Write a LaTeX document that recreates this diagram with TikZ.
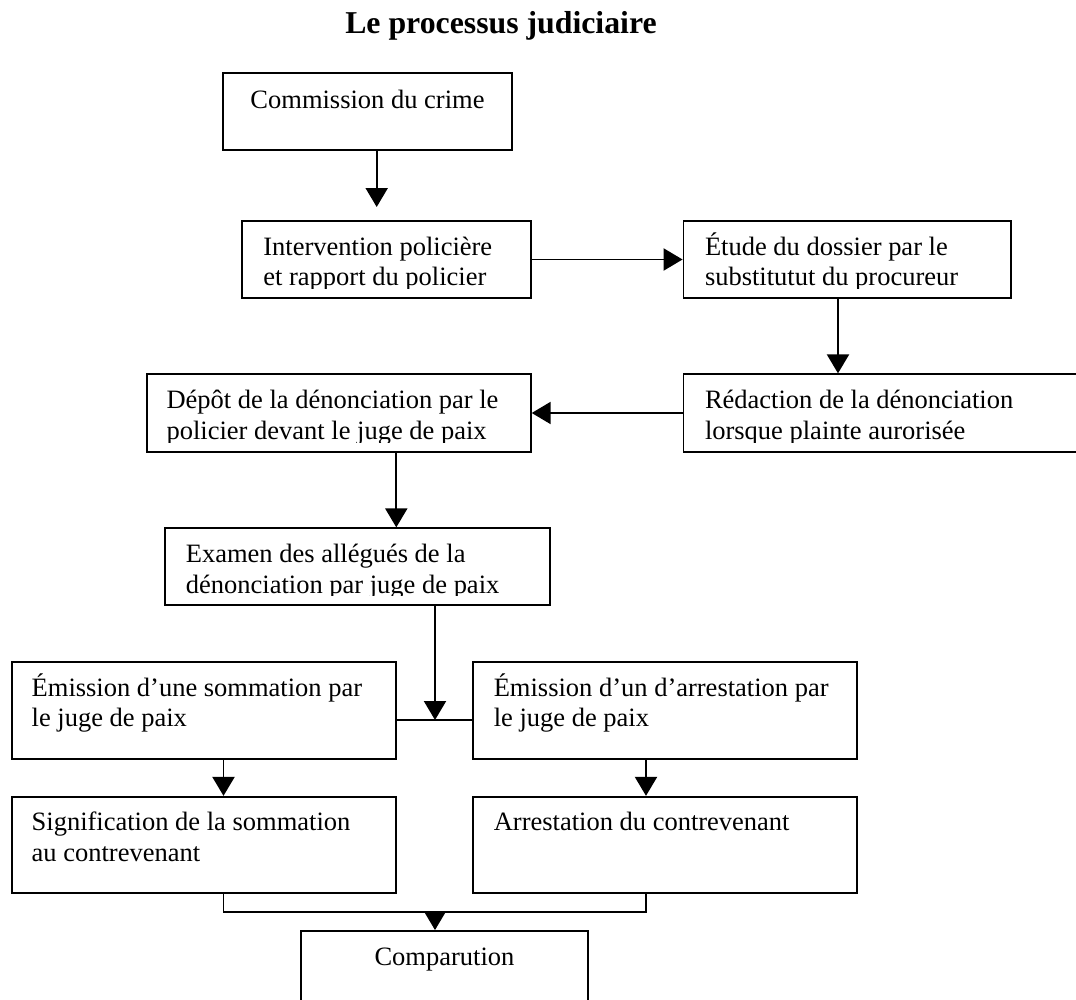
\documentclass[tikz,border=0pt]{standalone}
\usepackage{fontspec}
\setmainfont{Liberation Serif}
\usetikzlibrary{arrows.meta,calc,fit}
\newcommand\twolines[2]{\vtop{\baselineskip=13.8pt\hbox{#1}\hbox{#2}}}
\begin{document}
\begin{tikzpicture}[x=0.4529pt,y=-0.4529pt,
  box/.style={draw, line width=0.85pt, inner sep=0pt, rectangle, line join=miter},
  txt/.style={inner sep=0pt, font=\fontsize{12pt}{13.8pt}\selectfont},
  conn/.style={line width=0.85pt},
  arr/.style={conn, -{Triangle[length=8.6pt,width=10pt]}},
  titlestyle/.style={inner sep=0pt, font=\fontsize{14.4pt}{16pt}\selectfont\bfseries}
]
\useasboundingbox (0,0) rectangle (1076,1000);
\clip (0,0) rectangle (1076,1000);

% title
\node[titlestyle, anchor=base] (title) at (501,33.3) {Le processus judiciaire};

% boxes
\node[box, fit={(223,73.3)(512,150)}] (n1) {};
\node[box, fit={(242.4,220.7)(531.3,298.3)}] (n2) {};
\node[box, fit={(683.5,220.7)(1011,298.3)}] (n3) {};
\node[box, fit={(683.5,374.3)(1110,451.7)}] (n4) {};
\node[box, fit={(146.6,374.3)(530.8,451.7)}] (n5) {};
\node[box, fit={(165.4,528.3)(550.2,605)}] (n6) {};
\node[box, fit={(11.7,662.3)(396,759)}] (n7) {};
\node[box, fit={(473.3,662.3)(857.3,759)}] (n8) {};
\node[box, fit={(11.7,796.8)(396,893)}] (n9) {};
\node[box, fit={(473.3,796.8)(857.3,893)}] (n10) {};
\node[box, fit={(300.6,931)(588.3,1020)}] (n11) {};

% texts
\node[txt, anchor=base] (t1) at ($(n1.north)+(0,36)$) {Commission du crime};
\begin{scope}
\clip (n2.north west) rectangle ($(n2.south east)+(0,-10.5)$);
\node[txt, anchor=base west] (t2) at ($(n2.north west)+(21.5,35.5)$) {\twolines{Intervention policière}{et rapport du policier}};
\end{scope}
\begin{scope}
\clip (n3.north west) rectangle ($(n3.south east)+(0,-10.5)$);
\node[txt, anchor=base west] (t3) at ($(n3.north west)+(22,35.5)$) {\twolines{Étude du dossier par le}{substitutut du procureur}};
\end{scope}
\begin{scope}
\clip (n4.north west) rectangle ($(n4.south east)+(0,-10.5)$);
\node[txt, anchor=base west] (t4) at ($(n4.north west)+(22,35.5)$) {\twolines{Rédaction de la dénonciation}{lorsque plainte aurorisée}};
\end{scope}
\begin{scope}
\clip (n5.north west) rectangle ($(n5.south east)+(0,-10.5)$);
\node[txt, anchor=base west] (t5) at ($(n5.north west)+(20.5,35.5)$) {\twolines{Dépôt de la dénonciation par le}{policier devant le juge de paix}};
\end{scope}
\begin{scope}
\clip (n6.north west) rectangle ($(n6.south east)+(0,-10.5)$);
\node[txt, anchor=base west] (t6) at ($(n6.north west)+(21,35.5)$) {\twolines{Examen des allégués de la}{dénonciation par juge de paix}};
\end{scope}
\node[txt, anchor=base west] (t7) at ($(n7.north west)+(20.5,35)$) {\twolines{Émission d’une sommation par}{le juge de paix}};
\node[txt, anchor=base west] (t8) at ($(n8.north west)+(21,35)$) {\twolines{Émission d’un d’arrestation par}{le juge de paix}};
\node[txt, anchor=base west] (t9) at ($(n9.north west)+(20.5,35)$) {\twolines{Signification de la sommation}{au contrevenant}};
\node[txt, anchor=base west] (t10) at ($(n10.north west)+(21,35)$) {Arrestation du contrevenant};
\node[txt, anchor=base] (t11) at ($(n11.north)+(0,35.7)$) {Comparution};

% connectors
\coordinate (c12) at (376.7,207);
\draw[arr] (n1.south -| c12) -- (c12);
\draw[arr] (n2.east) -- (n3.west);
\coordinate (c34) at (838,0);
\draw[arr] (n3.south -| c34) -- (n4.north -| c34);
\draw[arr] (n4.west) -- (n5.east);
\coordinate (c56) at (396.3,0);
\draw[arr] (n5.south -| c56) -- (n6.north -| c56);
\coordinate (j) at (435,720);
\draw[arr] (n6.south -| j) -- (j);
\draw[conn] (n7.east |- j) -- (n8.west |- j);
\coordinate (c79) at (223.5,0);
\draw[arr] (n7.south -| c79) -- (n9.north -| c79);
\coordinate (c810) at (646,0);
\draw[arr] (n8.south -| c810) -- (n10.north -| c810);
\coordinate (m) at (435,911.7);
\draw[conn] (n9.south -| c79) -- (c79 |- m) -- (c810 |- m) -- (n10.south -| c810);
\draw[arr] (m) -- (n11.north -| m);
\end{tikzpicture}
\end{document}
